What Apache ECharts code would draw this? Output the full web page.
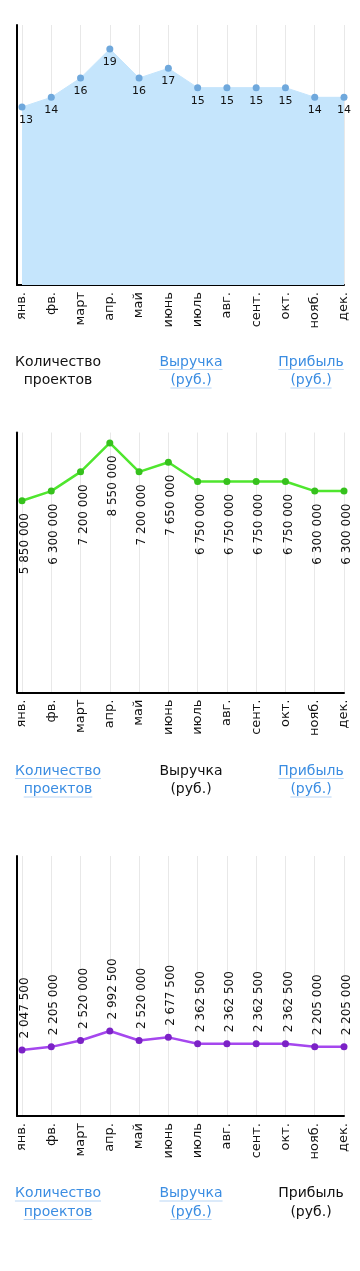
<!DOCTYPE html>
<html><head><meta charset="utf-8">
<script src="https://cdn.jsdelivr.net/npm/echarts@6/dist/echarts.min.js"></script>
<style>html,body{margin:0;padding:0;background:#fff}#c{width:360px;height:1271px}</style>
</head><body><div id="c"></div>
<script>
const months = ['янв.','фв.','март','апр.','май','июнь','июль','авг.','сент.','окт.','нояб.','дек.'];
const projects = [13,14,16,19,16,17,15,15,15,15,14,14];
const revenue = [5850000,6300000,7200000,8550000,7200000,7650000,6750000,6750000,6750000,6750000,6300000,6300000];
const profit = [2047500,2205000,2520000,2992500,2520000,2677500,2362500,2362500,2362500,2362500,2205000,2205000];
const legendNames = [['Количество','проектов'],['Выручка','(руб.)'],['Прибыль','(руб.)']];

const FONT = '"DejaVu Sans", sans-serif';
const panels = [
  {top:25,    data:projects, min:-5.41,   max:21.48,   legendY:362,   kind:0},
  {top:432.5, data:revenue,  min:-3.12e6, max:9.04e6,  legendY:771,   kind:1},
  {top:856,   data:profit,   min:-1.235e6,max:11.70e6, legendY:1193.5,kind:2}
];
const H = 260;
const fmt = v => String(v).replace(/\B(?=(\d{3})+(?!\d))/g, ' ');

const grid = [], xAxis = [], yAxis = [], series = [], graphic = [];
const cv = document.createElement('canvas').getContext('2d');

panels.forEach((p, i) => {
  const ga = grid.length;
  grid.push({left:17, right:16, top:p.top, height:H});
  grid.push({left:22, right:16, top:p.top, height:H});
  // frame axes (grid A)
  xAxis.push({type:'value', gridIndex:ga, min:0, max:1,
    axisLine:{show:true, onZero:false, lineStyle:{color:'#000', width:2}},
    axisTick:{show:false}, axisLabel:{show:false}, splitLine:{show:false}});
  yAxis.push({type:'value', gridIndex:ga, min:0, max:1,
    axisLine:{show:true, onZero:false, lineStyle:{color:'#000', width:2}},
    axisTick:{show:false}, axisLabel:{show:false}, splitLine:{show:false}});
  // category grid (grid B)
  xAxis.push({type:'category', gridIndex:ga+1, data:months, boundaryGap:false,
    axisLine:{show:false, onZero:false}, axisTick:{show:false},
    axisLabel:{rotate:90, margin:7, color:'#111', fontSize:13, fontFamily:FONT, interval:0, padding:[0,0,4,0]},
    splitLine:{show:true, lineStyle:{color:'#e8e8e8', width:1}}});
  yAxis.push({type:'value', gridIndex:ga+1, min:p.min, max:p.max, show:false, splitLine:{show:false}});

  const base = {type:'line', xAxisIndex:ga+1, yAxisIndex:ga+1,
    symbol:'circle', symbolSize:7, silent:true, animation:false, z:3};
  if (p.kind === 0) {
    series.push(Object.assign(base, {
      data: p.data.map((v, k) => k === 0 ? {value:v, label:{offset:[4,0]}} : v),
      itemStyle:{color:'#6fa8dc'},
      lineStyle:{color:'#c5e5fc', width:1},
      areaStyle:{color:'#c5e5fc', opacity:1, origin:'start'},
      label:{show:true, position:'bottom', distance:4, color:'#111', fontSize:11, fontFamily:FONT}
    }));
  } else if (p.kind === 1) {
    series.push(Object.assign(base, {
      data: p.data,
      itemStyle:{color:'#36c11d'},
      lineStyle:{color:'#4fe62e', width:2.5},
      label:{show:true, position:'bottom', distance:9, rotate:90, align:'right', verticalAlign:'middle',
        offset:[0,3], color:'#111', fontSize:12, fontFamily:FONT, formatter:o => fmt(o.value)}
    }));
  } else {
    series.push(Object.assign(base, {
      data: p.data,
      itemStyle:{color:'#7b22c6'},
      lineStyle:{color:'#a547ee', width:2.5},
      label:{show:true, position:'top', distance:8, rotate:90, align:'left', verticalAlign:'middle',
        offset:[0,3], color:'#111', fontSize:12, fontFamily:FONT, formatter:o => fmt(o.value)}
    }));
  }

  // legend-like switcher text
  const cx = [58, 191, 311];
  const fontSize = 14, lh = 18.5;
  cv.font = fontSize + 'px ' + FONT;
  legendNames.forEach((lines, j) => {
    const active = j === i;
    lines.forEach((t, k) => {
      const y = p.legendY + k * lh;
      graphic.push({type:'text', x:cx[j], y:y, silent:true,
        style:{text:t, x:0, y:0, align:'center', verticalAlign:'middle',
          fill: active ? '#111' : '#3b8de2', font: fontSize + 'px ' + FONT}});
      if (!active) {
        const w = cv.measureText(t).width;
        graphic.push({type:'line', silent:true,
          shape:{x1:cx[j]-w/2, y1:y+7.5, x2:cx[j]+w/2, y2:y+7.5},
          style:{stroke:'#b9d6f5', lineWidth:1}});
      }
    });
  });
});

const chart = echarts.init(document.getElementById('c'), null, {renderer:'canvas'});
chart.setOption({animation:false, grid, xAxis, yAxis, series, graphic});
</script></body></html>
